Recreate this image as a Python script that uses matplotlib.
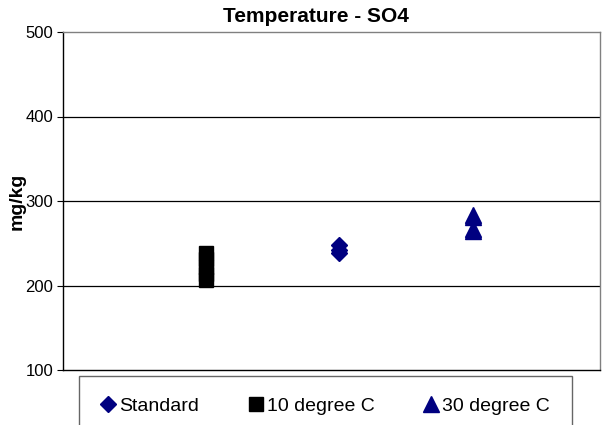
import matplotlib
matplotlib.use("Agg")
import matplotlib.pyplot as plt

plt.rcParams['font.family'] = ['Liberation Sans', 'DejaVu Sans']

title = "Temperature - SO4"
ylabel = "mg/kg"
series_names = ["Standard", "10 degree C", "30 degree C"]
x_standard = [2, 2, 2]
y_standard = [238, 242, 248]
x_10c = [1, 1, 1, 1, 1]
y_10c = [206, 214, 222, 231, 238]
x_30c = [3, 3, 3, 3]
y_30c = [265, 267, 281, 284]
yticks = [100, 200, 300, 400, 500]

W, H = 604, 425
fig = plt.figure(figsize=(W / 100, H / 100), dpi=100)
ax = fig.add_axes([63 / W, 1 - 370 / H, (600 - 63) / W, (370 - 32) / H])

h1, = ax.plot(x_standard, y_standard, linestyle='none', marker='D', markersize=8.5,
              color='#000080', label=series_names[0])
h2, = ax.plot(x_10c, y_10c, linestyle='none', marker='s', markersize=10.5,
              color='black', label=series_names[1])
h3, = ax.plot(x_30c, y_30c, linestyle='none', marker='^', markersize=11,
              color='#000080', label=series_names[2])

ax.set_xlim(-0.075, 3.955)
ax.set_ylim(100, 500)
ax.set_yticks(yticks)
ax.set_yticklabels([str(v) for v in yticks], fontsize=12)
ax.set_xticks([])
for v in yticks[1:-1]:
    ax.axhline(v, color='black', linewidth=0.9, zorder=0)
ax.tick_params(axis='y', direction='out', length=4, width=0.8, color='black', pad=3)
ax.spines['left'].set_color('black')
ax.spines['bottom'].set_color('black')
ax.spines['top'].set_color('#808080')
ax.spines['right'].set_color('#808080')
for s in ax.spines.values():
    s.set_linewidth(1.0)

fig.text(316 / W, 1 - 17 / H, title, ha='center', va='center', fontsize=15, fontweight='bold')
fig.text(17 / W, 1 - 201 / H, ylabel, ha='center', va='center', rotation=90,
         fontsize=14, fontweight='bold')

leg = fig.legend(handles=[h1, h2, h3], loc='upper left',
                 bbox_to_anchor=(79 / W, 1 - 376 / H),
                 ncol=3, fontsize=14, frameon=True, fancybox=False,
                 edgecolor='#404040', borderpad=1.1, handlelength=0.8,
                 handletextpad=0.18, columnspacing=2.5, borderaxespad=0)
leg.get_frame().set_linewidth(1.0)

fig.savefig("out.png", dpi=100)
